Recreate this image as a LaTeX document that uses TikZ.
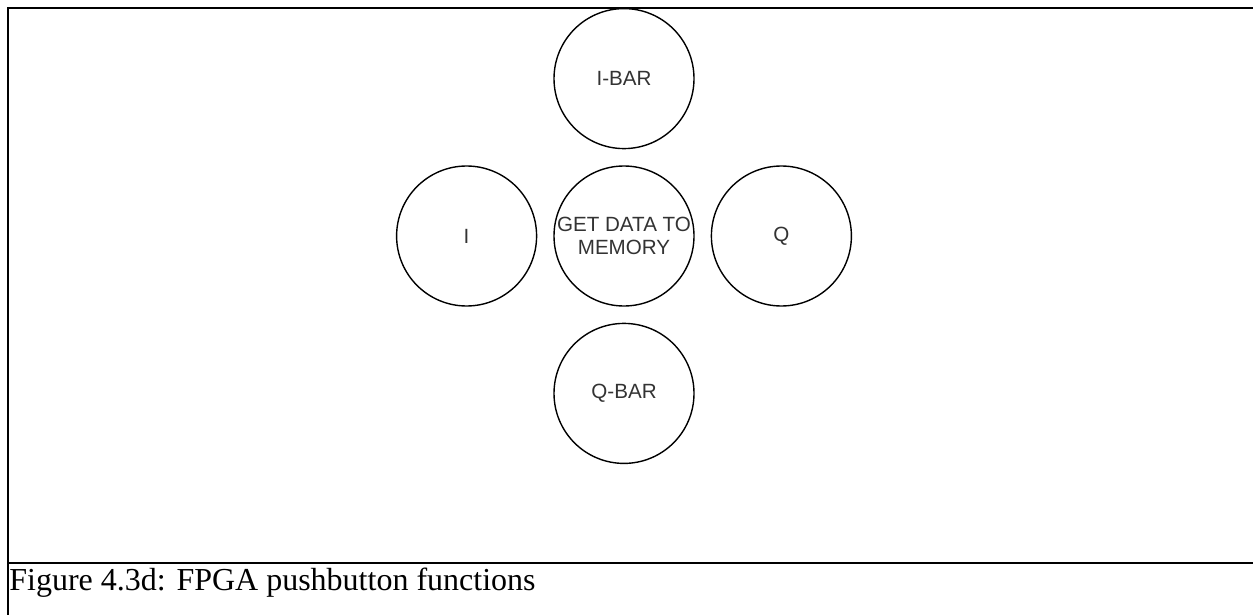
\documentclass[tikz,border=0pt]{standalone}
\usepackage{fontspec}
\setmainfont{Liberation Serif}
\newfontfamily\drawfont{Liberation Sans}
\usetikzlibrary{positioning}
\definecolor{labelgray}{HTML}{333333}
\tikzset{btn/.style = {draw, circle, line width = 0.7pt, minimum size = 70pt, inner sep = 0,
                       align = center, text = labelgray, font = \drawfont\fontsize{10.3}{11.8}\selectfont}}
\tikzset{frame/.style = {line width = 1.4pt}}

\begin{document}
\begin{tikzpicture}[x = 0.5pt, y = -0.5pt, node distance = 8pt]
	\useasboundingbox (0,0) rectangle (1253,615);
	% table cell round the picture
	\draw [frame] (8,615) -- (8,8) -- (1253,8);
	\draw [frame] (8,563) -- (1253,563);
	% the five buttons
	\node [btn] (mem) at (624,236) {GET DATA TO\\MEMORY};
	\node [btn, above = of mem] (ibar) {I-BAR};
	\node [btn, below = of mem] (qbar) {Q-BAR};
	\node [btn, left = of mem] (i) {I};
	\node [btn, right = of mem] (q) {Q};
	\node [anchor = base west, inner sep = 0, font = \fontsize{16}{18}\selectfont] (cap) at (9,590) {Figure 4.3d: FPGA pushbutton functions};
\end{tikzpicture}
\end{document}
